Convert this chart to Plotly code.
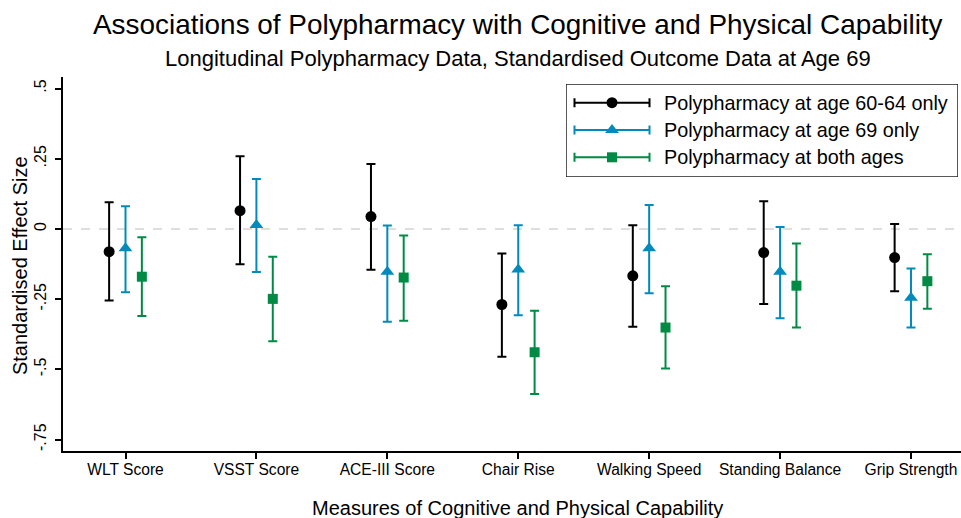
import plotly.graph_objects as go

categories = ["WLT Score", "VSST Score", "ACE-III Score", "Chair Rise",
              "Walking Speed", "Standing Balance", "Grip Strength"]

series_names = ["Polypharmacy at age 60-64 only",
                "Polypharmacy at age 69 only",
                "Polypharmacy at both ages"]

est_6064 = [-0.081, 0.065, 0.044, -0.269, -0.167, -0.084, -0.102]
lo_6064 = [-0.255, -0.126, -0.145, -0.455, -0.348, -0.267, -0.222]
hi_6064 = [0.095, 0.259, 0.231, -0.087, 0.013, 0.099, 0.018]

est_69 = [-0.069, 0.014, -0.152, -0.144, -0.069, -0.152, -0.245]
lo_69 = [-0.225, -0.153, -0.330, -0.307, -0.229, -0.318, -0.351]
hi_69 = [0.081, 0.178, 0.012, 0.013, 0.085, 0.007, -0.141]

est_both = [-0.170, -0.249, -0.173, -0.439, -0.351, -0.202, -0.186]
lo_both = [-0.310, -0.400, -0.327, -0.588, -0.497, -0.351, -0.284]
hi_both = [-0.030, -0.099, -0.023, -0.291, -0.204, -0.052, -0.090]

y_tickvals = [0.5, 0.25, 0, -0.25, -0.5, -0.75]
y_ticktext = [".5", ".25", "0", "-.25", "-.5", "-.75"]

colors = ["#000000", "#008BBC", "#008B45"]
symbols = ["circle", "triangle-up", "square"]
msizes = [11, 12, 10]
offsets = [-0.125, 0.0, 0.125]
FONT = "Liberation Sans, Arial, sans-serif"

series = [(est_6064, lo_6064, hi_6064),
          (est_69, lo_69, hi_69),
          (est_both, lo_both, hi_both)]

fig = go.Figure()

# zero reference line
fig.add_shape(type="line", xref="paper", x0=0, x1=1, yref="y", y0=0, y1=0,
              line=dict(color="#d4d4d4", width=1.5, dash="dash"), layer="below")

for k, (est, lo, hi) in enumerate(series):
    xs = [i + 1 + offsets[k] for i in range(len(categories))]
    fig.add_trace(go.Scatter(
        x=xs, y=est, mode="markers", name=series_names[k], showlegend=False,
        marker=dict(color=colors[k], symbol=symbols[k], size=msizes[k]),
        error_y=dict(type="data", symmetric=False,
                     array=[h - e for h, e in zip(hi, est)],
                     arrayminus=[e - l for e, l in zip(est, lo)],
                     color=colors[k], thickness=2, width=4.5),
        xaxis="x", yaxis="y"))

# custom legend (overlay axes in pixel-like units)
leg_y = [18.7, 46, 73.3]
for k in range(3):
    fig.add_trace(go.Scatter(
        x=[46], y=[leg_y[k]], mode="markers", showlegend=False, hoverinfo="skip",
        marker=dict(color=colors[k], symbol=symbols[k], size=msizes[k]),
        error_x=dict(type="data", array=[37.5], color=colors[k], thickness=2, width=4.5),
        xaxis="x2", yaxis="y2"))
    fig.add_annotation(x=96, y=leg_y[k], xref="x2", yref="y2", text=series_names[k],
                       showarrow=False, xanchor="left", yanchor="middle",
                       font=dict(size=19.8, color="black", family=FONT))
fig.add_shape(type="rect", xref="x2", yref="y2", x0=0, x1=392, y0=0, y1=93,
              line=dict(color="#222222", width=1.5), fillcolor="rgba(0,0,0,0)")

# titles
fig.add_annotation(x=0.5067, y=1.1417, xref="paper", yref="paper",
                   text="Associations of Polypharmacy with Cognitive and Physical Capability",
                   showarrow=False, xanchor="center", yanchor="middle",
                   font=dict(size=27.9, color="black", family=FONT))
fig.add_annotation(x=0.5067, y=1.0508, xref="paper", yref="paper",
                   text="Longitudinal Polypharmacy Data, Standardised Outcome Data at Age 69",
                   showarrow=False, xanchor="center", yanchor="middle",
                   font=dict(size=22, color="black", family=FONT))
fig.add_annotation(x=0.5056, y=-0.1524, xref="paper", yref="paper",
                   text="Measures of Cognitive and Physical Capability",
                   showarrow=False, xanchor="center", yanchor="middle",
                   font=dict(size=20, color="black", family=FONT))
fig.add_annotation(x=-0.0479, y=0.497, xref="paper", yref="paper",
                   text="Standardised Effect Size", textangle=-90,
                   showarrow=False, xanchor="center", yanchor="middle",
                   font=dict(size=20, color="black", family=FONT))

fig.update_layout(
    width=961, height=518,
    margin=dict(l=63, r=0, t=77, b=67),
    paper_bgcolor="white", plot_bgcolor="white",
    font=dict(family=FONT, color="black"),
    showlegend=False,
    xaxis=dict(range=[0.5226, 7.382], tickvals=list(range(1, len(categories) + 1)),
               ticktext=categories, showgrid=False, zeroline=False,
               showline=True, linecolor="black", linewidth=2,
               ticks="outside", ticklen=6, tickwidth=1.5, tickcolor="black",
               ticklabelstandoff=-3, ticklabeloverflow="allow",
               tickfont=dict(size=15.6, family=FONT, color="black")),
    yaxis=dict(range=[-0.7906, 0.541], tickvals=y_tickvals, ticktext=y_ticktext,
               tickangle=-90, showgrid=False, zeroline=False,
               showline=True, linecolor="black", linewidth=2,
               ticks="outside", ticklen=6, tickwidth=1.5, tickcolor="black",
               ticklabelstandoff=3,
               tickfont=dict(size=16, family=FONT, color="black")),
    xaxis2=dict(domain=[(566 - 63) / 898, (958 - 63) / 898], range=[0, 392],
                anchor="y2", visible=False, fixedrange=True),
    yaxis2=dict(domain=[(451 - 177) / 374, (451 - 84) / 374], range=[93, 0],
                anchor="x2", visible=False, fixedrange=True),
)

fig.write_html("out.html",
               config={"displayModeBar": False},
               post_script="document.body.style.margin='0';"
                           "document.body.style.overflow='hidden';")
